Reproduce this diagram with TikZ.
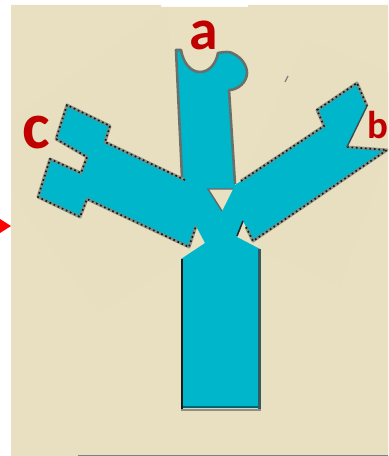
\documentclass[tikz,border=0pt]{standalone}
\usepackage{fontspec}
\setmainfont{Carlito}
\definecolor{paper}{HTML}{E8E0C0}
\definecolor{facet}{HTML}{E7DFBF}
\definecolor{teal}{HTML}{00B6CA}
\definecolor{labelred}{HTML}{C00000}
\definecolor{edge}{HTML}{3F4A50}
\tikzset{
  x=1bp,y=-1bp,
  lbl/.style={text=labelred,font=\bfseries,inner sep=0pt,anchor=center},
  halo/.style={draw=edge!60!paper,line width=3bp,line join=round,opacity=.8},
  dots/.style={draw=black!90,line width=1.7bp,dash pattern=on 1.7bp off 2.8bp},
  softedge/.style={draw=edge!75!paper,line width=2.6bp,line join=round}
}
\begin{document}
\begin{tikzpicture}
\useasboundingbox (0,0) rectangle (388,456);
\clip (0,0) rectangle (388,456);
\fill[white] (0,0) rectangle (388,456);
% paper
\fill[paper] (11,5) -- (161,5) -- (161,7) -- (248,7) -- (248,5) -- (388,5) -- (388,456) -- (11,456) -- cycle;
\draw[gray!90!teal,line width=1bp] (78,455.5) -- (388,455.5);
% faint facets
\fill[facet] (12,195) -- (100,313) -- (181,260) -- (181,180) -- (167,7) -- (12,120) -- cycle;
\fill[facet] (307,40) -- (388,72) -- (388,150) -- (340,287) -- (260,250) -- (240,180) -- cycle;
% stray mark
\draw[gray,line width=1.2bp] (285,82) -- (288,76);
% red arrow tip
\fill[red] (0,219) -- (11,226) -- (0,233) -- cycle;
% main shape
\fill[teal] (176,50) -- (181,50)
  .. controls (183,62) and (190,72) .. (200,72)
  .. controls (209,72) and (216,64) .. (218,53)
  .. controls (224,52) and (230,51) .. (234,54)
  .. controls (242,58) and (247,66) .. (247,73)
  .. controls (247,82) and (238,90) .. (229,90)
  -- (235,185) -- (241,181) -- (324,126) -- (317,110) -- (357,83) -- (367,106) -- (347,147) -- (387,150)
  -- (253,241) -- (243,221) -- (237,237) -- (260,249) -- (260,408) -- (181,408) -- (181,259) -- (205,243)
  -- (196,226) -- (189,247) -- (87,199) -- (80,217) -- (38,197) -- (50,159) -- (81,173) -- (87,157)
  -- (56,139) -- (67,105) -- (110,126) -- (105,142) -- (185,180) -- (182,177) -- cycle;
% triangular hole
\fill[paper] (208,189) -- (233,189) -- (222,211) -- cycle;
\draw[edge!80!paper,line width=1.4bp] (222,211) -- (208,189) -- (233,189);
% soft outline of the upper stem
\draw[softedge] (182,177) -- (176,50) -- (181,50)
  .. controls (183,62) and (190,72) .. (200,72)
  .. controls (209,72) and (216,64) .. (218,53)
  .. controls (224,52) and (230,51) .. (234,54)
  .. controls (242,58) and (247,66) .. (247,73)
  .. controls (247,82) and (238,90) .. (229,90)
  -- (235,184);
% dotted outlines of the arms
\path[halo] (185,180) -- (105,142) -- (110,126) -- (67,105) -- (56,139) -- (87,157) -- (81,173) -- (50,159) -- (38,197) -- (80,217) -- (87,199) -- (189,247) -- (196,226);
\path[dots] (185,180) -- (105,142) -- (110,126) -- (67,105) -- (56,139) -- (87,157) -- (81,173) -- (50,159) -- (38,197) -- (80,217) -- (87,199) -- (189,247) -- (196,226);
\path[halo] (241,181) -- (324,126) -- (317,110) -- (357,83) -- (367,106);
\path[dots] (241,181) -- (324,126) -- (317,110) -- (357,83) -- (367,106);
\path[halo] (347,147) -- (387,150) -- (253,241) -- (246,227);
\path[dots] (347,147) -- (387,150) -- (253,241) -- (246,227);
\draw[edge,line width=1.4bp] (367,106) -- (347,147);
\draw[black!85,line width=1.5bp] (243,221) -- (237,236);
% lower stem edges
\draw[black!90,line width=2.6bp] (182,259) -- (182,409);
\draw[edge!85!teal,line width=2.6bp] (259.5,249) -- (259.5,409);
\draw[teal!55!black,line width=2.4bp] (183,407) -- (258,407);
\draw[gray!85!paper,line width=2.4bp] (181,410) -- (261,410);
% labels
\node[lbl,font=\bfseries\fontsize{58}{58}\selectfont] (a) at (204,35) {a};
\node[lbl,font=\bfseries\fontsize{66}{66}\selectfont] (c) at (36,133) {c};
\node[lbl,font=\bfseries\fontsize{39}{39}\selectfont,anchor=west] (b) at (367,125) {b};
\end{tikzpicture}
\end{document}
